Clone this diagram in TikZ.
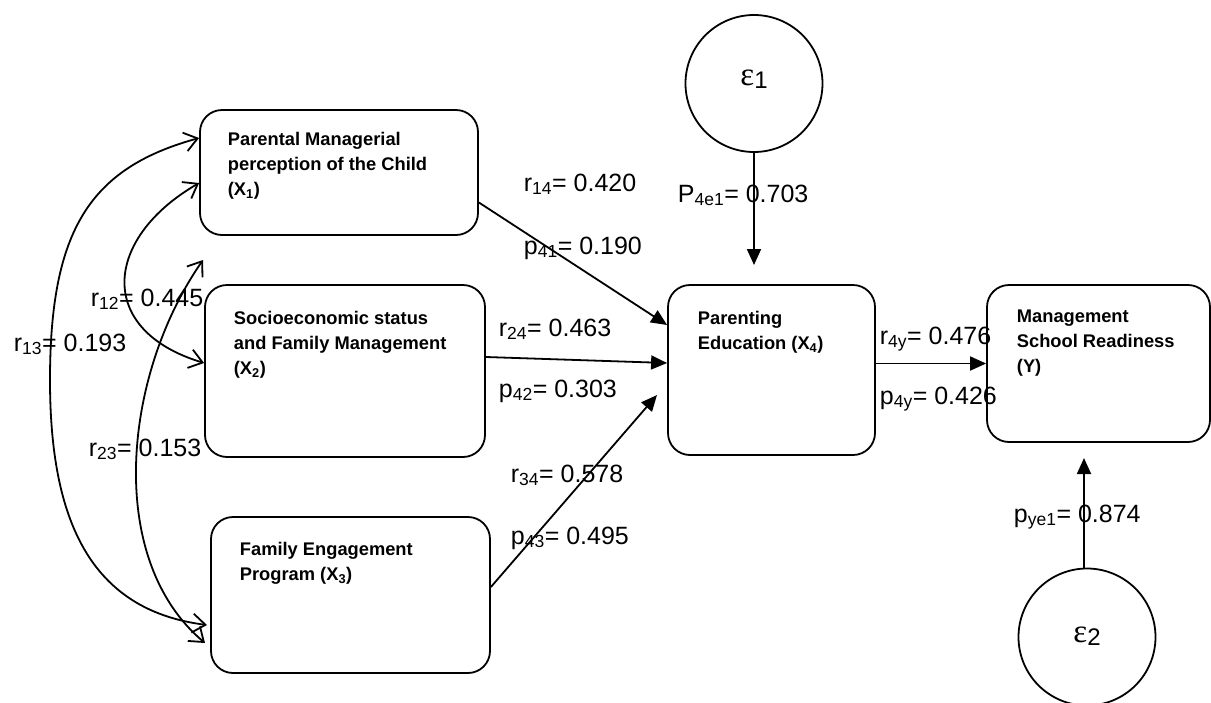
\documentclass[tikz,border=0pt]{standalone}
\usepackage{fontspec}
\setmainfont{Liberation Sans}
\newfontfamily\epsfont{Liberation Serif}
\usetikzlibrary{arrows.meta,calc}
\newcommand{\lsub}[1]{\textsubscript{#1}}
\begin{document}
\begin{tikzpicture}[x=1pt,y=-1pt, line width=1.8pt,
 box/.style={draw, rounded corners=22pt, inner sep=0pt},
 boxtext/.style={anchor=north west, inner sep=0pt, align=left, font=\bfseries\fontsize{18.3}{25}\selectfont},
 lab/.style={anchor=base west, inner sep=0pt, font=\fontsize{25}{30}\selectfont},
 err/.style={draw, circle, minimum size=137pt, inner sep=0pt},
 epslab/.style={anchor=base, inner sep=0pt},
 pathar/.style={-{Triangle[length=16pt,width=14pt]}},
 corr/.style={{Straight Barb[length=13pt,width=19pt]}-{Straight Barb[length=13pt,width=19pt]}}]
\useasboundingbox (0,0) rectangle (1211,702);

% boxes
\node[box, minimum width=278pt, minimum height=125pt] (X1) at (339,172.5) {};
\node[box, minimum width=280pt, minimum height=172pt] (X2) at (345,371) {};
\node[box, minimum width=279pt, minimum height=156pt] (X3) at (350.5,595) {};
\node[box, minimum width=207pt, minimum height=170pt] (X4) at (771.5,370) {};
\node[box, minimum width=223pt, minimum height=157pt] (Y) at (1098.5,363.5) {};

% box texts
\node[boxtext] (X1t) at (227,131) {Parental Managerial\\perception of the Child\\(X\lsub{1})};
\node[boxtext] (X2t) at (233,310) {Socioeconomic status\\and Family Management\\(X\lsub{2})};
\node[boxtext] (X3t) at (239,541) {Family Engagement\\Program (X\lsub{3})};
\node[boxtext] (X4t) at (697,310) {Parenting\\Education (X\lsub{4})};
\node[boxtext] (Yt) at (1016,309) {Management\\School Readiness\\(Y)};

% error terms
\node[err] (e1) at (754,83.5) {};
\node[err] (e2) at (1087,637) {};
\node[epslab] (e1t) at (754,85) {{\epsfont\fontsize{33}{33}\selectfont ε}\raisebox{-3pt}{\fontsize{24}{24}\selectfont 1}};
\node[epslab] (e2t) at (1087,642) {{\epsfont\fontsize{33}{33}\selectfont ε}\raisebox{-3pt}{\fontsize{24}{24}\selectfont 2}};

% path arrows
\coordinate (x3end) at (657,395);
\coordinate (e1end) at (754,265);
\coordinate (e2end) at (1084,458);
\draw[pathar] ([yshift=-30pt]X1.east) -- ([yshift=45pt]X4.west);
\draw[pathar] ([yshift=14pt]X2.east) -- ([yshift=7pt]X4.west);
\draw[pathar] ([yshift=8pt]X3.east) -- (x3end);
\draw[pathar] (X4.east |- Y.west) -- (Y.west);
\draw[pathar] (e1.south) -- (e1end);
\draw[pathar] (e2.north -| e2end) -- (e2end);

% correlations
\coordinate (r13a) at ([yshift=34.5pt]X1.west);
\coordinate (r13m) at (50,380);
\coordinate (r13b) at (207,625);
\coordinate (r12a) at ([yshift=-10.5pt]X1.west);
\coordinate (r12b) at ([yshift=8pt]X2.west);
\coordinate (r23a) at (203,260);
\coordinate (r23b) at (205,643);
\draw[corr] (r13a) .. controls (90,168) and (50,230) .. (r13m) .. controls (50,520) and (90,610) .. (r13b);
\draw[corr] (r12a) .. controls (104,238) and (95,330) .. (r12b);
\draw[corr] (r23a) .. controls (123,375) and (105,559) .. (r23b);

% labels
\node[lab] (l14) at (523,191) {r\lsub{14}= 0.420};
\node[lab] (l41) at (523,254) {p\lsub{41}= 0.190};
\node[lab] (l24) at (498,336) {r\lsub{24}= 0.463};
\node[lab] (l42) at (498,397) {p\lsub{42}= 0.303};
\node[lab] (l34) at (510,482) {r\lsub{34}= 0.578};
\node[lab] (l43) at (510,544) {p\lsub{43}= 0.495};
\node[lab] (l4e1) at (677,202) {P\lsub{4e1}= 0.703};
\node[lab] (l4y) at (879,344) {r\lsub{4y}= 0.476};
\node[lab] (lp4y) at (879,404) {p\lsub{4y}= 0.426};
\node[lab] (lye1) at (1013,522) {p\lsub{ye1}= 0.874};
\node[lab] (l12) at (90,306) {r\lsub{12}= 0.445};
\node[lab] (l13) at (13,351) {r\lsub{13}= 0.193};
\node[lab] (l23) at (88,456) {r\lsub{23}= 0.153};
\end{tikzpicture}
\end{document}
